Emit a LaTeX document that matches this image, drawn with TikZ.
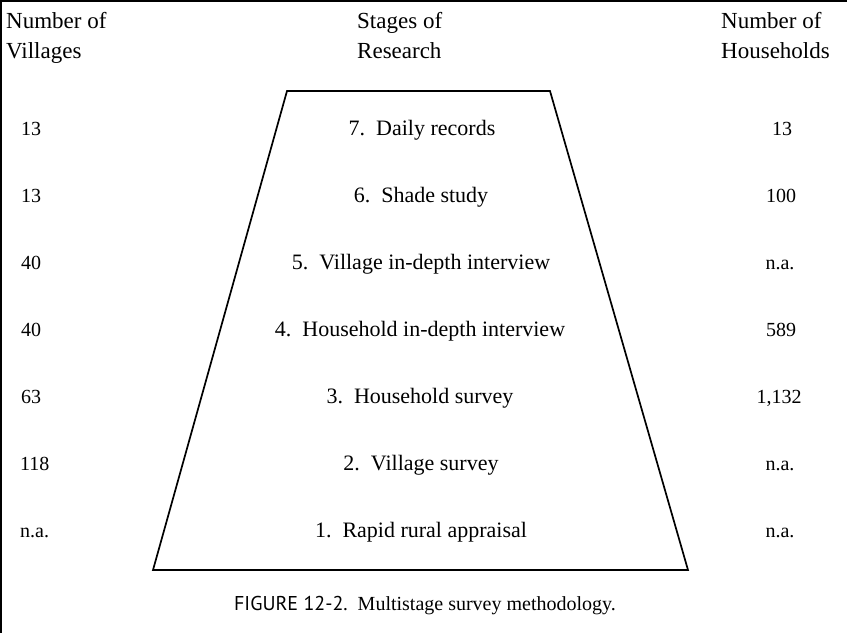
\documentclass[tikz,border=0pt]{standalone}
\usepackage{fontspec}
\setmainfont{Liberation Serif}
\newfontfamily\capsans{PT Sans}
\begin{document}
\begin{tikzpicture}[x=1pt,y=-1pt,
  hdr/.style={inner sep=0pt,anchor=base west,font=\fontsize{23}{30}\selectfont,align=left},
  lnum/.style={inner sep=0pt,anchor=base west,font=\fontsize{20}{24}\selectfont},
  rnum/.style={inner sep=0pt,anchor=base,font=\fontsize{20}{24}\selectfont},
  stage/.style={inner sep=0pt,anchor=base,font=\fontsize{22}{24}\selectfont},
  edge/.style={line width=1.7pt,line join=miter}]
\useasboundingbox (0,0) rectangle (847,633);
% frame (top and left only)
\draw[line width=1.5pt] (847,1) -- (1,1) -- (1,633);
% headers
\node[hdr] (hv1) at (6,28) {Number of};
\node[hdr] (hv2) at (6,58) {Villages};
\node[hdr] (hs1) at (357,28) {Stages of};
\node[hdr] (hs2) at (357,58) {Research};
\node[hdr] (hh1) at (721,28) {Number of};
\node[hdr] (hh2) at (721,58) {Households};
% trapezoid
\coordinate (tl) at (287,91);
\coordinate (tr) at (550,91);
\coordinate (br) at (688,570);
\coordinate (bl) at (153,570);
\draw[edge] (tl) -- (tr) -- (br) -- (bl) -- cycle;
% rows
\node[lnum] (v7) at (21,135) {13};
\node[lnum] (v6) at (21,202) {13};
\node[lnum] (v5) at (21,269) {40};
\node[lnum] (v4) at (21,336) {40};
\node[lnum] (v3) at (21,403) {63};
\node[lnum] (v2) at (20,470) {118};
\node[lnum] (v1) at (20,537) {n.a.};
\node[stage] (s7) at (422,135) {7.\ \ Daily records};
\node[stage] (s6) at (421,202) {6.\ \ Shade study};
\node[stage] (s5) at (421,269) {5.\ \ Village in-depth interview};
\node[stage] (s4) at (420,336) {4.\ \ Household in-depth interview};
\node[stage] (s3) at (420,403) {3.\ \ Household survey};
\node[stage] (s2) at (421,470) {2.\ \ Village survey};
\node[stage] (s1) at (421,537) {1.\ \ Rapid rural appraisal};
\node[rnum] (h7) at (782,135) {13};
\node[rnum] (h6) at (781,202) {100};
\node[rnum] (h5) at (780,269) {n.a.};
\node[rnum] (h4) at (781,336) {589};
\node[rnum] (h3) at (779,403) {1,132};
\node[rnum] (h2) at (780,470) {n.a.};
\node[rnum] (h1) at (780,537) {n.a.};
% caption
\node[inner sep=0pt,anchor=base,font=\fontsize{20}{24}\selectfont] (cap) at (425,610)
  {{\capsans FIGURE 12-2.}\ \ Multistage survey methodology.};
\end{tikzpicture}
\end{document}
